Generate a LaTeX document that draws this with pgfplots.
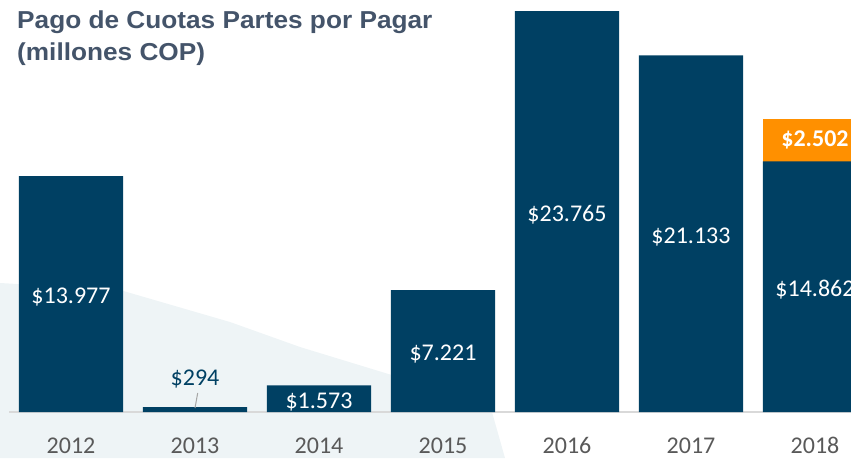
\documentclass[border=0pt]{standalone}
\usepackage{fontspec}
\setmainfont{Carlito}
\newfontfamily\titlefont{Liberation Sans}
\usepackage{pgfplots}
\pgfplotsset{compat=1.18}
\definecolor{navy}{RGB}{0,64,99}
\definecolor{orng}{RGB}{255,144,0}
\definecolor{titlegray}{RGB}{68,84,106}
\definecolor{tickgray}{RGB}{89,89,89}
\definecolor{bgshade}{RGB}{238,244,246}

\begin{document}
\begin{tikzpicture}
\path[use as bounding box] (-9pt,-46pt) rectangle (842pt,412pt);
\clip (-9pt,-46pt) rectangle (842pt,412pt);
% faint background shape
\fill[bgshade] (-9pt,129pt) -- (111pt,122pt) -- (221pt,90pt) -- (291pt,65pt) -- (481pt,7pt) -- (496pt,-46pt) -- (-9pt,-46pt) -- cycle;
\begin{axis}[
  at={(0pt,0pt)}, anchor=south west,
  scale only axis, width=868pt, height=412pt,
  xmin=-0.5, xmax=6.5, ymin=0, ymax=24422,
  axis x line*=bottom, axis y line=none,
  x axis line style={draw=black!15, line width=1.5pt},
  ytick=\empty,
  xtick={0,...,6}, xticklabels={2012,2013,2014,2015,2016,2017,2018},
  major tick length=0pt,
  xticklabel style={anchor=base, yshift=-41pt, font=\fontsize{24}{24}\selectfont, text=tickgray},
  every node near coord/.style={anchor=center, font=\fontsize{24}{24}\selectfont, text=white},
]
\addplot[ybar, bar width=0.839, bar shift=0pt, fill=orng, draw=none] coordinates {(6,17364)};
\addplot[ybar, bar width=0.839, bar shift=0pt, fill=navy, draw=none] coordinates {
  (0,13977) (1,294) (2,1573) (3,7221) (4,23765) (5,21133) (6,14862)};
% value labels, placed at the middle of each segment
\addplot[draw=none, mark=none, nodes near coords, point meta=explicit symbolic,
  every node near coord/.append style={yshift=-3pt}] table[meta=lab] {
x y lab
0 6988 \$13.977
2 786 \$1.573
3 3610 \$7.221
4 11882 \$23.765
5 10566 \$21.133
6 7431 \$14.862
};
\addplot[draw=none, mark=none, nodes near coords, point meta=explicit symbolic] table[meta=lab] {
x y lab
6 16113 \textbf{\$2.502}
};
\addplot[draw=none, mark=none, nodes near coords, point meta=explicit symbolic,
  every node near coord/.append style={text=navy, yshift=-1pt}] table[meta=lab] {
x y lab
1 2015 \$294
};
\end{axis}
\draw[black!35, line width=1pt] (188.7pt,19pt) -- (186pt,4pt);
\node[anchor=base west, inner sep=0pt, text=titlegray, font=\titlefont\bfseries\fontsize{24.5}{28}\selectfont] at (8pt,383.3pt) {\scalebox{1.07}[1]{Pago de Cuotas Partes por Pagar}};
\node[anchor=base west, inner sep=0pt, text=titlegray, font=\titlefont\bfseries\fontsize{24.5}{28}\selectfont] at (8pt,351pt) {\scalebox{1.07}[1]{(millones COP)}};
\end{tikzpicture}
\end{document}
